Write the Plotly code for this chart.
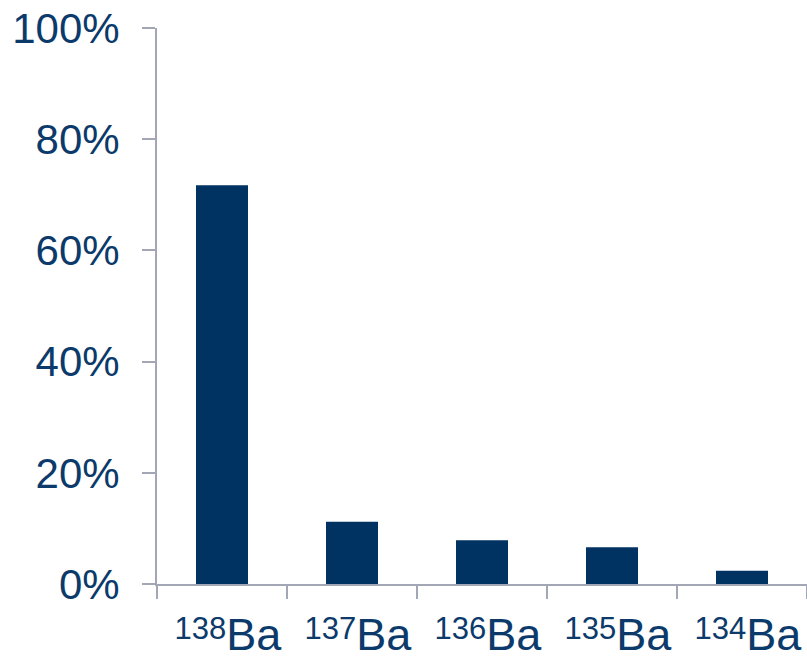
import plotly.graph_objects as go

isotopes = ["138", "137", "136", "135", "134"]
element = "Ba"
abundance = [0.717, 0.112, 0.0785, 0.066, 0.024]
y_ticks = [0, 0.2, 0.4, 0.6, 0.8, 1.0]

labels = [f"<span style='font-size:31px;baseline-shift:11px'>{m}</span>{element}" for m in isotopes]

BAR = "#003262"
TXT = "#0B3A6B"
AX = "#A3A7B5"

fig = go.Figure(go.Bar(x=labels, y=abundance, marker=dict(color=BAR, line=dict(width=0)), width=0.4))

fig.update_layout(
    width=807, height=660,
    margin=dict(l=157, r=0, t=28, b=76),
    paper_bgcolor="white", plot_bgcolor="white",
    font=dict(family="Liberation Sans, Arial", size=42, color=TXT),
    showlegend=False,
)
fig.update_xaxes(
    showline=True, linecolor=AX, linewidth=2,
    ticks="outside", ticklen=13, tickcolor=AX, tickwidth=2,
    tickson="boundaries", showgrid=False, ticklabelshift=6,
    ticklabelstandoff=10, tickfont=dict(size=45), automargin=False,
)
fig.update_yaxes(
    range=[0, 1], tickvals=y_ticks, tickformat=".0%",
    showline=True, linecolor=AX, linewidth=2,
    ticks="outside", ticklen=13, tickcolor=AX, tickwidth=2,
    showgrid=False, zeroline=False, ticklabelstandoff=14, automargin=False,
)

fig.write_html("out.html")
